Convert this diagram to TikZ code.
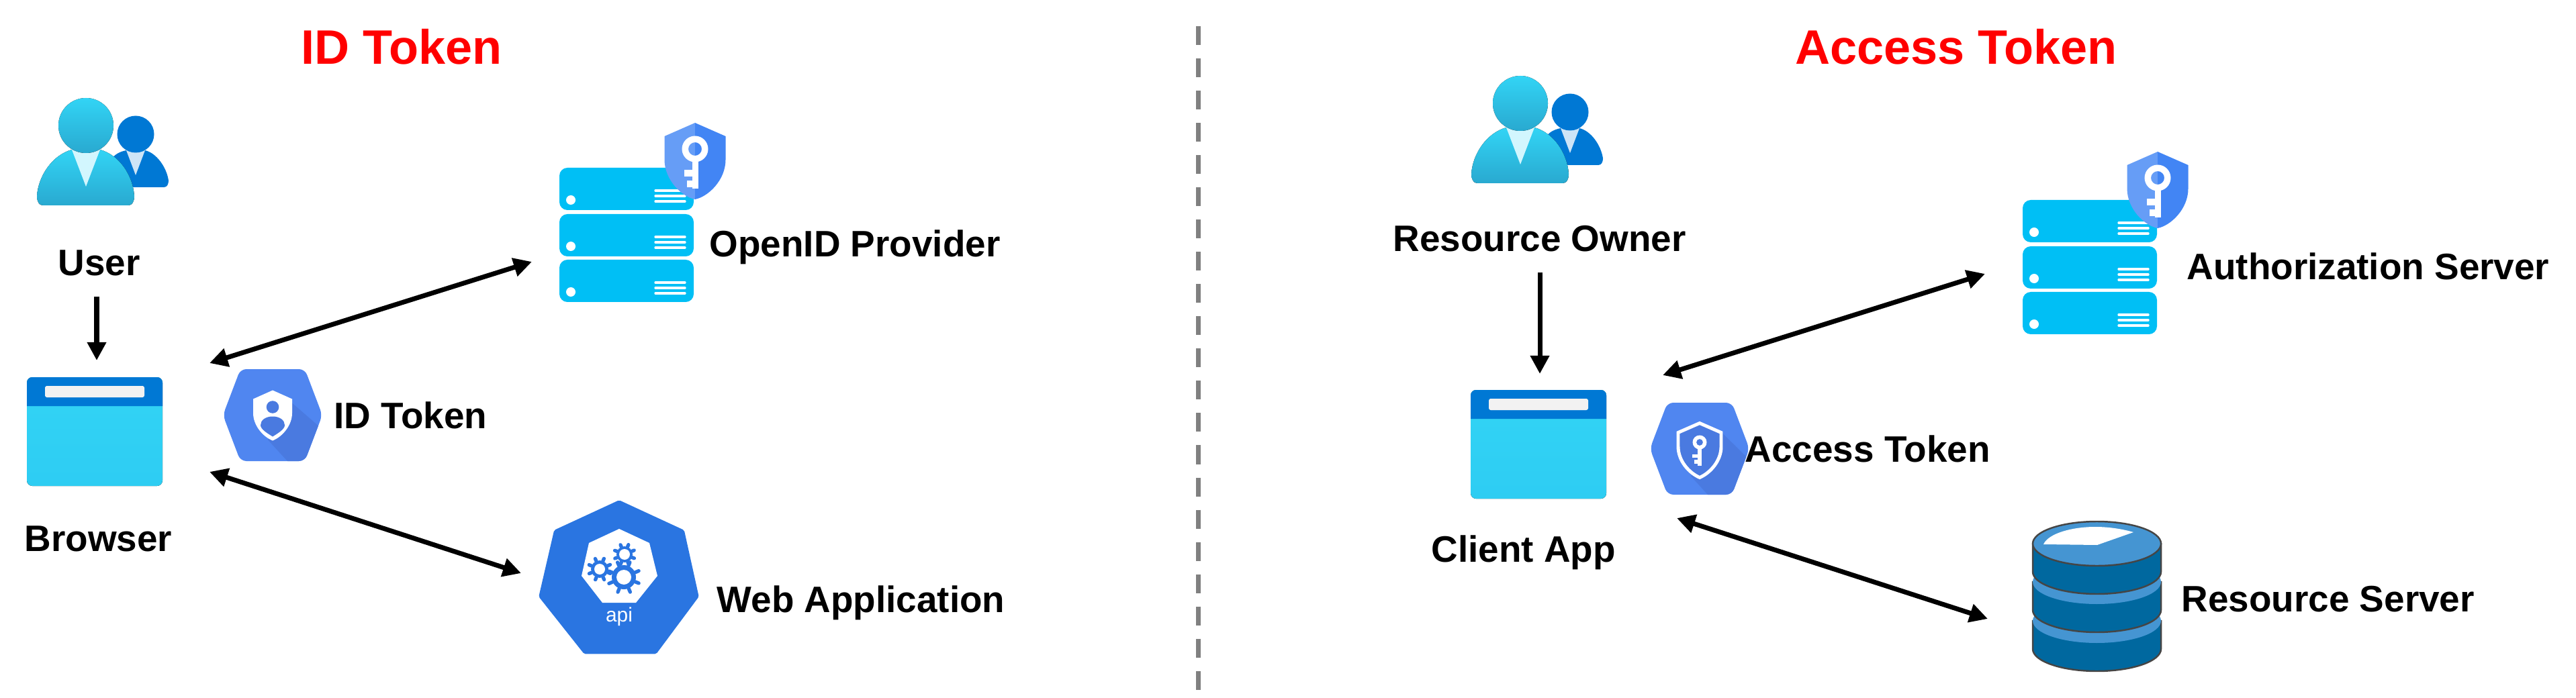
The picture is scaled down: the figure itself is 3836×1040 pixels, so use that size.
\documentclass[tikz,border=0pt]{standalone}
\usepackage{fontspec}
\setmainfont{Liberation Sans}
\usetikzlibrary{arrows.meta}
\definecolor{mycyan}{HTML}{32D4F5}
\definecolor{mydeepcyan}{HTML}{29A9D0}
\definecolor{mycollar}{HTML}{D2F6FE}
\definecolor{myblue}{HTML}{0078D4}
\definecolor{mypaleblue}{HTML}{CDE4F7}
\definecolor{myserver}{HTML}{00BFF5}
\definecolor{myhex}{HTML}{5086F0}
\definecolor{myhexdark}{HTML}{4A7AE0}
\definecolor{myshieldl}{HTML}{669DF6}
\definecolor{myshieldr}{HTML}{4285F4}
\definecolor{myapi}{HTML}{2A75E1}
\definecolor{mydbdark}{HTML}{00689F}
\definecolor{mydblight}{HTML}{4595D2}
\definecolor{mydbline}{HTML}{454545}
\tikzset{>={Triangle[length=7.7pt,width=7.7pt]}}
\tikzset{link/.style={<->,line width=2pt}}
\tikzset{feed/.style={->,line width=2pt}}
\tikzset{caption/.style={font=\fontsize{15.6}{18}\selectfont\bfseries,anchor=base west,inner sep=0pt}}
\tikzset{heading/.style={font=\fontsize{20.5}{24}\selectfont\bfseries,text=red,anchor=base,inner sep=0pt}}
\newcommand{\hexpath}{(-74,0) -- (-48,-68.5) -- (48,-68.5) -- (74,0) -- (48,68.5) -- (-48,68.5) -- cycle}
\newcommand{\gearwheel}[5]{% x, y, body, hole, tip
  \foreach \a in {0,45,...,315}
    \draw[myapi,line width=1.5pt,line cap=round] (#1,#2) ++(\a+22:#3) -- ++(\a+22:#5-#3);
  \fill[myapi] (#1,#2) circle (#3);
  \fill[white] (#1,#2) circle (#4);
}
\tikzset{
  user icon/.pic={
    % person behind
    \fill[myblue] (60,37) .. controls (50,39) and (43,43) .. (38,50) -- (60,92) -- (116,92)
      .. controls (121,92) and (123,87) .. (123,82) .. controls (120,62) and (105,41) .. (88,37) -- cycle;
    \fill[mypaleblue] (60,37) -- (88,37) -- (74,74) -- cycle;
    \fill[myblue] (74,13) circle (27.5);
    % person in front
    \fill[top color=mycyan,middle color=mycyan,bottom color=mydeepcyan]
      (-21,36) .. controls (-50,44) and (-71,75) .. (-73,105) .. controls (-73,113) and (-70,119) .. (-64,119)
      -- (63,119) .. controls (69,119) and (72,113) .. (72,105) .. controls (70,75) and (50,44) .. (21,36) -- cycle;
    \fill[mycollar] (-21,36) -- (21,36) -- (0,91) -- cycle;
    \fill[top color=mycyan,middle color=mycyan,bottom color=mydeepcyan] (0,0) circle (41);
  },
  browser icon/.pic={
    \fill[rounded corners=2.3pt,top color=mycyan,middle color=mycyan,bottom color=mycyan!92!myblue] (0,0) rectangle (202,162);
    \fill[myblue] (0,43) [rounded corners=2.3pt] -- (0,0) -- (202,0) [sharp corners] -- (202,43) -- cycle;
    \fill[black!5,rounded corners=0.8pt] (27,13) rectangle (175,30);
  },
  server icon/.pic={
    \foreach \r in {0,69,137} {
      \fill[myserver,rounded corners=3.4pt] (0,\r) rectangle (200,\r+63);
      \fill[white] (17,\r+48) circle (7);
      \foreach \l in {34,42,50}
        \draw[white,line width=0.95pt,line cap=round] (143,\r+\l) -- (187,\r+\l);
    }
  },
  key shield/.pic={
    \fill[myshieldl] (0,0) -- (-45.5,20) -- (-45.5,55) .. controls (-45.5,85) and (-20,110) .. (0,114) -- cycle;
    \fill[myshieldr] (0,0) -- (45.5,20) -- (45.5,55) .. controls (45.5,85) and (20,110) .. (0,114) -- cycle;
    \fill[white,even odd rule] (0,39) circle (19.5) (0,39) circle (10);
    \fill[white] (-4.5,55) rectangle (5.3,98);
    \fill[white] (-16,70) rectangle (-4,80);
    \fill[white] (-12,86) rectangle (-4,96);
  },
  id hex/.pic={
    \fill[myhex,rounded corners=2.5pt] \hexpath;
    \begin{scope}
      \clip[rounded corners=2.5pt] \hexpath;
      \fill[myhexdark] (29,-18) -- (67,15) -- (80,30) -- (40,80) -- (22,68.5) -- (-7,37) -- cycle;
    \end{scope}
    \fill[white] (0,-37) -- (29,-24) -- (29,-3) .. controls (29,15) and (15,32) .. (0,38)
      .. controls (-15,32) and (-29,15) .. (-29,-3) -- (-29,-24) -- cycle;
    \fill[myhexdark] (0,-12) circle (9.3);
    \fill[myhexdark] (0,2) .. controls (-11,2) and (-18,8) .. (-18,15) .. controls (-18,21) and (-8,27) .. (0,32)
      .. controls (8,27) and (18,21) .. (18,15) .. controls (18,8) and (11,2) .. (0,2) -- cycle;
  },
  access hex/.pic={
    \fill[myhex,rounded corners=2.5pt] \hexpath;
    \begin{scope}
      \clip[rounded corners=2.5pt] \hexpath;
      \fill[myhexdark] (34,-23) -- (69,11.5) -- (80,30) -- (40,80) -- (12,68.5) -- (-13,41) -- cycle;
    \end{scope}
    \draw[white,fill=myhexdark,line width=1.4pt] (0,-38) -- (32,-24) -- (32,-3) .. controls (32,18) and (16,36) .. (0,43)
      .. controls (-16,36) and (-32,18) .. (-32,-3) -- (-32,-24) -- cycle;
    \fill[white,even odd rule] (0,-9.5) circle (10.5) (0,-9.5) circle (5);
    \fill[white] (-3,-1) rectangle (3,25);
    \fill[white] (-11,8.5) rectangle (-3,13);
    \fill[white] (-8,16.5) rectangle (-3,22);
  },
  db segment/.pic={
    \fill[mydbdark,draw=mydbline,line width=0.7pt] (-95.5,0) -- (-95.5,42)
      .. controls (-95.5,60) and (-53,75) .. (0,75) .. controls (53,75) and (95.5,60) .. (95.5,42)
      -- (95.5,0) -- cycle;
    \fill[mydblight] (0,0) ellipse [x radius=95.5,y radius=33];
  },
}

\begin{document}
\begin{tikzpicture}[x=0.01cm,y=-0.01cm]
  \useasboundingbox (0,0) rectangle (3836,1040);

  % HEADINGS
  \node[heading] (id title) at (598,96) {ID Token};
  \node[heading] (access title) at (2913,96) {Access Token};
  \draw[gray,line width=2pt,dash pattern=on 7.97pt off 5.69pt] (1784,39) -- (1784,1030);

  % ID TOKEN SIDE
  \pic at (128,187) {user icon};
  \pic at (40,562) {browser icon};
  \pic at (406,618.5) {id hex};
  \pic at (833,250) {server icon};
  \pic at (1035,183) {key shield};

  % web application
  \fill[myapi,line join=round,line width=2.5pt,draw=myapi]
    (922,750) -- (1015,793) -- (1036,888) -- (975,970) -- (872,970) -- (807,888) -- (829,793) -- cycle;
  \fill[white] (922,788) -- (967,809) -- (979,858) -- (947,898) -- (897,898) -- (866,858) -- (877,809) -- cycle;
  \gearwheel{930}{826}{12}{8}{15.5}
  \gearwheel{893}{848}{13}{8}{17}
  \gearwheel{929}{860}{18}{11}{24}
  \node[font=\fontsize{8.5}{10}\selectfont,text=white,anchor=base,inner sep=0pt] (api text) at (922,926) {api};

  \node[caption] (user label) at (86,411) {User};
  \node[caption] (browser label) at (36,821) {Browser};
  \node[caption] (id label) at (497,638) {ID Token};
  \node[caption] (provider label) at (1056,383) {OpenID Provider};
  \node[caption] (webapp label) at (1067,912) {Web Application};

  \coordinate (user out) at (144,442);
  \coordinate (browser in) at (144,537);
  \coordinate (browser up) at (312,541);
  \coordinate (provider in) at (792,390);
  \coordinate (browser down) at (312,703);
  \coordinate (webapp in) at (776,854);
  \draw[feed] (user out) -- (browser in);
  \draw[link] (browser up) -- (provider in);
  \draw[link] (browser down) -- (webapp in);

  % ACCESS TOKEN SIDE
  \pic at (2264,154) {user icon};
  \pic at (2190,581) {browser icon};
  \pic at (2531,668.5) {access hex};
  \pic at (3012,298) {server icon};
  \pic at (3213,226) {key shield};

  % resource server
  \foreach \t in {925,867,810}
    \pic at (3122.5,\t) {db segment};
  \draw[mydbline,line width=0.7pt] (3122.5,810) ellipse [x radius=95.5,y radius=33];
  \fill[white] (3043,811) .. controls (3050,795) and (3085,785) .. (3120,785)
    .. controls (3140,785) and (3160,788) .. (3177,793) -- (3123,812) -- cycle;

  \node[caption] (owner label) at (2074,375) {Resource Owner};
  \node[caption] (client label) at (2131,837) {Client App};
  \node[caption] (access label) at (2598,688) {Access Token};
  \node[caption] (auth label) at (3256,417) {Authorization Server};
  \node[caption] (resource label) at (3248,911) {Resource Server};

  \coordinate (owner out) at (2293,406);
  \coordinate (client in) at (2293,557);
  \coordinate (client up) at (2476,559);
  \coordinate (auth in) at (2956,408);
  \coordinate (client down) at (2497,772);
  \coordinate (resource in) at (2960,922);
  \draw[feed] (owner out) -- (client in);
  \draw[link] (client up) -- (auth in);
  \draw[link] (client down) -- (resource in);
\end{tikzpicture}
\end{document}
